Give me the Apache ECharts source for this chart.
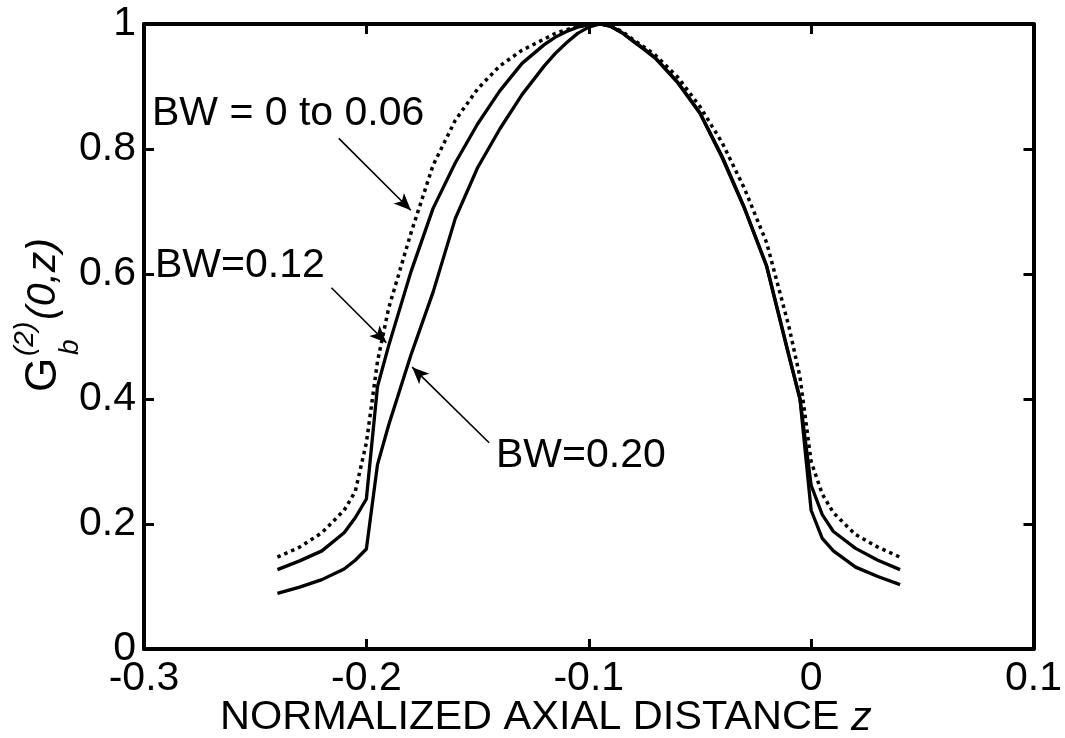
<!DOCTYPE html>
<html>
<head>
<meta charset="utf-8">
<script src="https://cdn.jsdelivr.net/npm/echarts@6/dist/echarts.min.js"></script>
<style>
  html, body { margin: 0; padding: 0; background: #fff; }
  #main { width: 1065px; height: 738px; }
</style>
</head>
<body>
<div id="main"></div>
<script>
// z positions shared by every curve
var zValues = [-0.24, -0.23, -0.22, -0.21, -0.205, -0.20, -0.195, -0.19, -0.18, -0.17,
  -0.16, -0.15, -0.14, -0.13, -0.12, -0.115, -0.11, -0.105, -0.10, -0.095,
  -0.09, -0.085, -0.08, -0.075, -0.07, -0.06, -0.05, -0.04, -0.03, -0.02,
  -0.01, -0.005, 0, 0.005, 0.01, 0.02, 0.03, 0.04];

// BW = 0 to 0.06 (dotted)
var bw006 = [0.147, 0.163, 0.186, 0.222, 0.252, 0.33, 0.46, 0.545, 0.665, 0.774,
  0.846, 0.896, 0.933, 0.958, 0.976, 0.985, 0.991, 0.996, 0.999, 1.0,
  0.997, 0.988, 0.975, 0.963, 0.95, 0.915, 0.868, 0.81, 0.737, 0.65,
  0.516, 0.435, 0.30, 0.248, 0.218, 0.183, 0.163, 0.147];

// BW = 0.12
var bw012 = [0.127, 0.141, 0.157, 0.186, 0.21, 0.24, 0.42, 0.485, 0.603, 0.705,
  0.778, 0.84, 0.893, 0.937, 0.967, 0.979, 0.988, 0.995, 0.999, 1.0,
  0.996, 0.986, 0.973, 0.96, 0.946, 0.907, 0.858, 0.788, 0.706, 0.613,
  0.47, 0.40, 0.262, 0.215, 0.188, 0.161, 0.142, 0.127];

// BW = 0.20
var bw020 = [0.089, 0.099, 0.111, 0.128, 0.142, 0.16, 0.295, 0.358, 0.47, 0.571,
  0.689, 0.77, 0.832, 0.887, 0.933, 0.953, 0.97, 0.985, 0.995, 1.0,
  0.996, 0.986, 0.972, 0.959, 0.945, 0.906, 0.857, 0.786, 0.705, 0.612,
  0.469, 0.40, 0.222, 0.177, 0.157, 0.131, 0.116, 0.103];

var xTicks = [-0.3, 0.1, 0.1];   // min, max, step
var yTicks = [0, 1, 0.2];

// arrows: [start z, start G, end z, end G]
var arrows = [
  [-0.2124, 0.817, -0.180, 0.702],
  [-0.2157, 0.578, -0.191, 0.490],
  [-0.1448, 0.330, -0.1794, 0.451]
];

var FONT = 'Liberation Sans, Arial, sans-serif';

function pairs(vals) {
  return zValues.map(function (z, i) { return [z, vals[i]]; });
}

var chart = echarts.init(document.getElementById('main'));

var axisLine = { show: true, onZero: false, lineStyle: { color: '#000', width: 4 } };
var tickIn = { show: true, inside: true, length: 10, lineStyle: { color: '#000', width: 3 } };

function curve(name, vals, style) {
  return {
    name: name, type: 'line', data: pairs(vals),
    showSymbol: false, symbol: 'none',
    lineStyle: style
  };
}

var dotted = curve('BW = 0 to 0.06', bw006, { color: '#000', width: 3.5, type: [3.5, 4], cap: 'butt' });
dotted.markLine = {
  silent: true, animation: false,
  symbol: ['none', 'arrow'], symbolSize: [11, 17],
  label: { show: false },
  lineStyle: { color: '#000', width: 1.6, type: 'solid' },
  data: arrows.map(function (a) {
    return [{ coord: [a[0], a[1]] }, { coord: [a[2], a[3]] }];
  })
};

var option = {
  animation: false,
  backgroundColor: '#fff',
  grid: { left: 144, right: 30, top: 24, bottom: 89 },
  xAxis: [
    {
      type: 'value', min: xTicks[0], max: xTicks[1], interval: xTicks[2],
      axisLine: axisLine, axisTick: tickIn, splitLine: { show: false },
      axisLabel: { color: '#000', fontSize: 41, fontFamily: FONT, margin: 9,
        formatter: function (v) { return +v.toFixed(1) + ''; } }
    },
    {
      type: 'value', position: 'top', min: xTicks[0], max: xTicks[1], interval: xTicks[2],
      axisLine: axisLine, axisTick: tickIn, splitLine: { show: false },
      axisLabel: { show: false }
    }
  ],
  yAxis: [
    {
      type: 'value', min: yTicks[0], max: yTicks[1], interval: yTicks[2],
      axisLine: axisLine, axisTick: tickIn, splitLine: { show: false },
      axisLabel: { color: '#000', fontSize: 41, fontFamily: FONT, margin: 8,
        formatter: function (v) { return +v.toFixed(1) + ''; } }
    },
    {
      type: 'value', position: 'right', min: yTicks[0], max: yTicks[1], interval: yTicks[2],
      axisLine: axisLine, axisTick: tickIn, splitLine: { show: false },
      axisLabel: { show: false }
    }
  ],
  series: [
    dotted,
    curve('BW=0.12', bw012, { color: '#000', width: 3.3 }),
    curve('BW=0.20', bw020, { color: '#000', width: 3.3 })
  ],
  graphic: [
    { type: 'text', left: 152, top: 93, style: { text: 'BW = 0 to 0.06', fontSize: 41, fontFamily: FONT, fill: '#000' } },
    { type: 'text', left: 155, top: 245, style: { text: 'BW=0.12', fontSize: 41, fontFamily: FONT, fill: '#000' } },
    { type: 'text', left: 496, top: 435, style: { text: 'BW=0.20', fontSize: 41, fontFamily: FONT, fill: '#000' } },
    {
      type: 'text', left: 220, top: 697,
      style: {
        text: '{n|NORMALIZED AXIAL DISTANCE }{i|z}',
        rich: {
          n: { fontSize: 41.5, fontFamily: FONT, fill: '#000' },
          i: { fontSize: 41.5, fontFamily: FONT, fontStyle: 'italic', fill: '#000' }
        }
      }
    },
    {
      type: 'group', x: 44, y: 392, rotation: Math.PI / 2,
      children: [
        { type: 'text', x: 0, y: 0, style: { text: 'G', fontSize: 44, fontFamily: FONT, fill: '#000', verticalAlign: 'middle' } },
        { type: 'text', x: 36, y: -19, style: { text: '(2)', fontSize: 28, fontFamily: FONT, fontStyle: 'italic', fill: '#000', verticalAlign: 'middle' } },
        { type: 'text', x: 37, y: 26, style: { text: 'b', fontSize: 28, fontFamily: FONT, fontStyle: 'italic', fill: '#000', verticalAlign: 'middle' } },
        { type: 'text', x: 72, y: 0, style: { text: '(0,z)', fontSize: 41, fontFamily: FONT, fontStyle: 'italic', fill: '#000', verticalAlign: 'middle' } }
      ]
    }
  ]
};

chart.setOption(option);
</script>
</body>
</html>
